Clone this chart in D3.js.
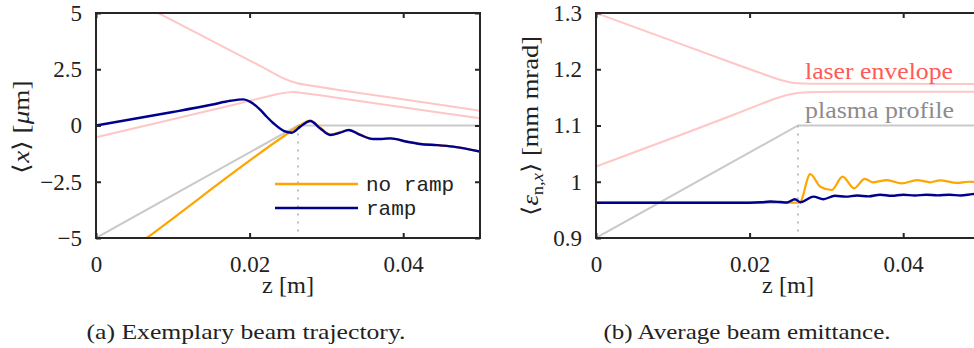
<!DOCTYPE html>
<html>
<head>
<meta charset="utf-8">
<script src="https://cdn.jsdelivr.net/npm/d3@7"></script>
<style>
  body { margin: 0; background: #fff; }
  svg text { font-family: "Liberation Serif", "Times New Roman", serif; fill: #222; }
</style>
</head>
<body>
<svg id="chart" width="974" height="348"></svg>
<script>
// ---- tick values / labels
const zTicks = [0, 0.02, 0.04];
const zTickLabels = ["0", "0.02", "0.04"];
const xTicks = [-5, -2.5, 0, 2.5, 5];
const xTickLabels = ["\u22125", "\u22122.5", "0", "2.5", "5"];
const epsTicks = [0.9, 1, 1.1, 1.2, 1.3];
const epsTickLabels = ["0.9", "1", "1.1", "1.2", "1.3"];

// ---- (a) beam trajectory <x> [um] vs z [m]
const laserUpperA = [[0, 6.4], [0.0081, 5.0], [0.022, 2.55], [0.0245, 2.05], [0.0262, 1.86], [0.028, 1.76], [0.05, 0.66]];
const laserLowerA = [[0, -0.52], [0.02, 1.08], [0.0235, 1.4], [0.0255, 1.52], [0.0275, 1.42], [0.05, 0.32]];
const plasmaA = [[0, -5], [0.0263, 0], [0.05, 0]];
const noRampA = [[0, -6.66], [0.0066, -5], [0.0252, -0.3], [0.0266, 0.02], [0.0279, 0.22], [0.0292, -0.1],
  [0.0305, -0.4], [0.0318, -0.3], [0.0329, -0.2], [0.0344, -0.4], [0.0361, -0.6], [0.0372, -0.6],
  [0.0383, -0.57], [0.0405, -0.72], [0.0422, -0.82], [0.0444, -0.87], [0.0465, -0.94], [0.05, -1.16]];
const rampA = [[0, 0], [0.005, 0.3], [0.01, 0.6], [0.015, 0.92], [0.0175, 1.1], [0.0192, 1.16], [0.0201, 1.05],
  [0.0214, 0.69], [0.0222, 0.4], [0.0231, 0.1], [0.0245, -0.25], [0.0255, -0.32], [0.0266, -0.05],
  [0.0279, 0.2], [0.0292, -0.13], [0.0305, -0.42], [0.0318, -0.32], [0.0329, -0.2], [0.0344, -0.42],
  [0.0361, -0.6], [0.0372, -0.6], [0.0383, -0.57], [0.0405, -0.72], [0.0422, -0.82], [0.0444, -0.87],
  [0.0465, -0.94], [0.05, -1.16]];

// ---- (b) emittance <eps_n,x> [mm mrad] vs z [m]
const laserUpperB = [[0, 1.3], [0.02, 1.2], [0.0235, 1.183], [0.0255, 1.175], [0.028, 1.174], [0.05, 1.174]];
const laserLowerB = [[0, 1.027], [0.02, 1.129], [0.0235, 1.15], [0.0262, 1.159], [0.029, 1.16], [0.05, 1.16]];
const plasmaB = [[0, 0.9], [0.0263, 1.1], [0.05, 1.1]];
const noRampB = [[0, 0.9628], [0.0265, 0.9628], [0.0279, 1.0135], [0.0292, 0.9912], [0.0307, 0.9853],
  [0.0321, 1.009], [0.0336, 0.9884], [0.035, 1.005], [0.0361, 0.999], [0.0379, 1.003], [0.0398, 0.997],
  [0.0418, 1.003], [0.0435, 0.999], [0.0448, 1.0026], [0.047, 0.998], [0.0485, 1.0], [0.05, 0.999]];
const rampB = [[0, 0.9628], [0.02, 0.9628], [0.0215, 0.9635], [0.0227, 0.9648], [0.024, 0.964], [0.0249, 0.9632],
  [0.0259, 0.969], [0.0266, 0.9636], [0.0283, 0.9735], [0.0296, 0.969], [0.0311, 0.975], [0.0325, 0.9735],
  [0.034, 0.9755], [0.0355, 0.974], [0.037, 0.977], [0.0385, 0.975], [0.04, 0.977], [0.0415, 0.9755],
  [0.043, 0.977], [0.0445, 0.9758], [0.046, 0.977], [0.0475, 0.9755], [0.049, 0.978], [0.05, 0.979]];

const plasmaEnd = 0.0263;

const colors = {
  laser: "#ffc6c6", plasma: "#c9c9c9", noRamp: "#ffa500", ramp: "#00008f",
  frame: "#262626", laserText: "#ff5a5a", plasmaText: "#8c8c8c"
};

const serif = '"Liberation Serif", "Times New Roman", serif';
const svg = d3.select("#chart");

function buildPanel(opts) {
  const props = { width: 384, height: 225 };
  const g = svg.append("g").attr("transform", `translate(${opts.left},13)`);

  props.xscale = d3.scaleLinear().domain([0, 0.05]).range([0, props.width]);
  props.yscale = d3.scaleLinear().domain(opts.ydomain).range([props.height, 0]);

  g.append("clipPath").attr("id", opts.id + "-clip")
    .append("rect").attr("width", props.width).attr("height", props.height);

  const line = curve => d3.line()
    .x(d => props.xscale(d[0]))
    .y(d => props.yscale(d[1]))
    .curve(curve);

  const plot = g.append("g").attr("clip-path", `url(#${opts.id}-clip)`);

  // laser envelope (rounded at the focus) and plasma profile (straight ramp)
  [opts.laserUpper, opts.laserLower].forEach(data => {
    plot.append("path").datum(data).attr("d", line(d3.curveBasis))
      .attr("fill", "none").attr("stroke", colors.laser).attr("stroke-width", 2);
  });
  plot.append("path").datum(opts.plasma).attr("d", line(d3.curveLinear))
    .attr("fill", "none").attr("stroke", colors.plasma).attr("stroke-width", 2);

  // dotted marker at the end of the plasma up-ramp
  plot.append("line")
    .attr("x1", props.xscale(plasmaEnd)).attr("x2", props.xscale(plasmaEnd))
    .attr("y1", props.yscale(opts.dotTop)).attr("y2", props.height)
    .attr("stroke", "#bdbdbd").attr("stroke-width", 2).attr("stroke-dasharray", "2,6");

  plot.append("path").datum(opts.noRamp).attr("d", line(d3.curveMonotoneX))
    .attr("fill", "none").attr("stroke", colors.noRamp).attr("stroke-width", 2.2);
  plot.append("path").datum(opts.ramp).attr("d", line(d3.curveMonotoneX))
    .attr("fill", "none").attr("stroke", colors.ramp).attr("stroke-width", 2.4);

  // axes, ticks pointing inward on all four sides
  const xAxis = d3.axisBottom(props.xscale).tickValues(zTicks)
    .tickFormat((d, i) => zTickLabels[i]).tickSizeInner(-5).tickSizeOuter(0).tickPadding(18);
  const yAxis = d3.axisLeft(props.yscale).tickValues(opts.yticks)
    .tickFormat((d, i) => opts.yTickLabels[i]).tickSizeInner(-5).tickSizeOuter(0).tickPadding(14);

  g.append("g").attr("class", "x axis").attr("transform", `translate(0,${props.height})`).call(xAxis);
  g.append("g").attr("class", "y axis").call(yAxis);
  g.append("g")
    .call(d3.axisTop(props.xscale).tickValues(zTicks).tickFormat("").tickSizeInner(-5).tickSizeOuter(0));
  g.append("g").attr("transform", `translate(${props.width},0)`)
    .call(d3.axisRight(props.yscale).tickValues(opts.yticks).tickFormat("").tickSizeInner(-5).tickSizeOuter(0));

  g.selectAll(".domain").remove();
  g.selectAll(".tick line").attr("stroke", colors.frame).attr("stroke-width", 2);
  g.selectAll(".tick text").attr("font-family", serif).style("font-family", serif)
    .style("font-size", "23px").attr("fill", "#222");

  g.append("rect").attr("width", props.width).attr("height", props.height)
    .attr("fill", "none").attr("stroke", colors.frame).attr("stroke-width", 2);

  // xlabel
  g.append("text")
    .attr("x", props.width / 2).attr("y", props.height + 55)
    .attr("text-anchor", "middle").style("font-size", "23px")
    .attr("textLength", 52).attr("lengthAdjust", "spacingAndGlyphs")
    .text("z [m]");

  // caption
  svg.append("text")
    .attr("x", opts.captionX).attr("y", 339)
    .attr("text-anchor", "middle").style("font-size", "22px")
    .attr("textLength", opts.captionW).attr("lengthAdjust", "spacingAndGlyphs")
    .text(opts.caption);

  return { g, props };
}

// (a)
const a = buildPanel({
  id: "pa", left: 96, ydomain: [-5, 5], yticks: xTicks, yTickLabels: xTickLabels,
  laserUpper: laserUpperA, laserLower: laserLowerA, plasma: plasmaA,
  noRamp: noRampA, ramp: rampA, dotTop: -0.35,
  caption: "(a) Exemplary beam trajectory.", captionX: 246, captionW: 319
});

// ylabel (a)
const yla = svg.append("text")
  .attr("transform", "translate(29,127) rotate(-90)")
  .attr("text-anchor", "middle").style("font-size", "23px")
  .attr("textLength", 93).attr("lengthAdjust", "spacingAndGlyphs");
yla.append("tspan").text("\u27E8");
yla.append("tspan").style("font-style", "italic").text("x");
yla.append("tspan").text("\u27E9 [");
yla.append("tspan").style("font-style", "italic").text("\u03BC");
yla.append("tspan").text("m]");

// legend (a)
const legendItems = [["no ramp", colors.noRamp], ["ramp", colors.ramp]];
const leg = a.g.append("g").attr("transform", "translate(179,171)");
legendItems.forEach(([name, col], i) => {
  leg.append("line").attr("x1", 0).attr("x2", 83)
    .attr("y1", i * 24).attr("y2", i * 24)
    .attr("stroke", col).attr("stroke-width", 2.4);
  leg.append("text").attr("x", 91).attr("y", i * 24 + 7)
    .style("font-family", '"Liberation Mono", monospace').style("font-size", "21px")
    .text(name);
});

// (b)
const b = buildPanel({
  id: "pb", left: 596, ydomain: [0.9, 1.3], yticks: epsTicks, yTickLabels: epsTickLabels,
  laserUpper: laserUpperB, laserLower: laserLowerB, plasma: plasmaB,
  noRamp: noRampB, ramp: rampB, dotTop: 1.1,
  caption: "(b) Average beam emittance.", captionX: 747, captionW: 287
});

// ylabel (b)
const ylb = svg.append("text")
  .attr("transform", "translate(538,126) rotate(-90)")
  .attr("text-anchor", "middle").style("font-size", "23px")
  .attr("textLength", 180).attr("lengthAdjust", "spacingAndGlyphs");
ylb.append("tspan").text("\u27E8");
ylb.append("tspan").style("font-style", "italic").text("\u03B5");
ylb.append("tspan").attr("baseline-shift", "-30%").style("font-size", "16px").text("n,");
ylb.append("tspan").attr("baseline-shift", "-30%").style("font-size", "16px").style("font-style", "italic").text("x");
ylb.append("tspan").text("\u27E9 [mm mrad]");

// curve annotations (b)
b.g.append("text").attr("x", 209).attr("y", 66)
  .style("font-size", "24px").style("fill", colors.laserText)
  .attr("textLength", 148).attr("lengthAdjust", "spacingAndGlyphs")
  .text("laser envelope");
b.g.append("text").attr("x", 209).attr("y", 105)
  .style("font-size", "24px").style("fill", colors.plasmaText)
  .attr("textLength", 149).attr("lengthAdjust", "spacingAndGlyphs")
  .text("plasma profile");
</script>
</body>
</html>
